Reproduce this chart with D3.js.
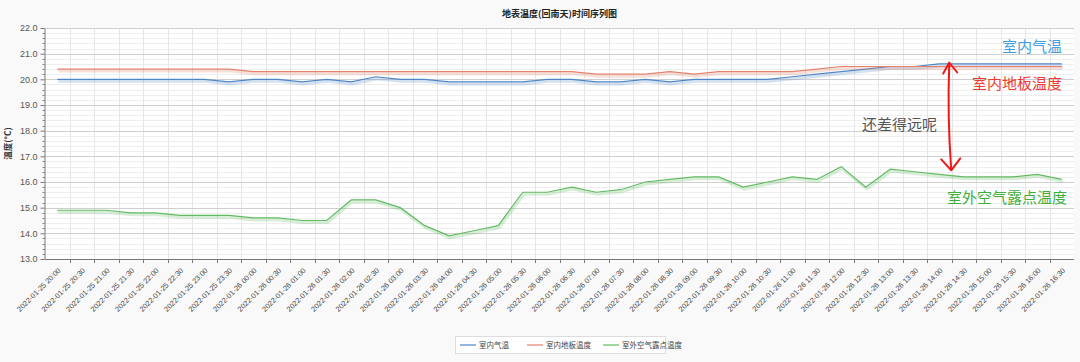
<!DOCTYPE html>
<html>
<head>
<meta charset="utf-8">
<script src="https://cdn.jsdelivr.net/npm/d3@7"></script>
<style>
	html, body { margin: 0; padding: 0; background: #f9f9f9; }
	svg { display: block; font-family: "Liberation Sans", "Noto Sans CJK SC", sans-serif; }
</style>
</head>
<body>
<script>
// 时间刻度
const times = [
	"2022-01-25 20:00", "2022-01-25 20:30", "2022-01-25 21:00", "2022-01-25 21:30",
	"2022-01-25 22:00", "2022-01-25 22:30", "2022-01-25 23:00", "2022-01-25 23:30",
	"2022-01-26 00:00", "2022-01-26 00:30", "2022-01-26 01:00", "2022-01-26 01:30",
	"2022-01-26 02:00", "2022-01-26 02:30", "2022-01-26 03:00", "2022-01-26 03:30",
	"2022-01-26 04:00", "2022-01-26 04:30", "2022-01-26 05:00", "2022-01-26 05:30",
	"2022-01-26 06:00", "2022-01-26 06:30", "2022-01-26 07:00", "2022-01-26 07:30",
	"2022-01-26 08:00", "2022-01-26 08:30", "2022-01-26 09:00", "2022-01-26 09:30",
	"2022-01-26 10:00", "2022-01-26 10:30", "2022-01-26 11:00", "2022-01-26 11:30",
	"2022-01-26 12:00", "2022-01-26 12:30", "2022-01-26 13:00", "2022-01-26 13:30",
	"2022-01-26 14:00", "2022-01-26 14:30", "2022-01-26 15:00", "2022-01-26 15:30",
	"2022-01-26 16:00", "2022-01-26 16:30"
];

// 室内气温
const indoorAir = [
	20.0, 20.0, 20.0, 20.0, 20.0, 20.0, 20.0, 19.9, 20.0, 20.0, 19.9, 20.0,
	19.9, 20.1, 20.0, 20.0, 19.9, 19.9, 19.9, 19.9, 20.0, 20.0, 19.9, 19.9,
	20.0, 19.9, 20.0, 20.0, 20.0, 20.0, 20.1, 20.2, 20.3, 20.4, 20.5, 20.5,
	20.6, 20.6, 20.6, 20.6, 20.6, 20.6
];

// 室内地板温度
const indoorFloor = [
	20.4, 20.4, 20.4, 20.4, 20.4, 20.4, 20.4, 20.4, 20.3, 20.3, 20.3, 20.3,
	20.3, 20.3, 20.3, 20.3, 20.3, 20.3, 20.3, 20.3, 20.3, 20.3, 20.2, 20.2,
	20.2, 20.3, 20.2, 20.3, 20.3, 20.3, 20.3, 20.4, 20.5, 20.5, 20.5, 20.5,
	20.5, 20.5, 20.5, 20.5, 20.5, 20.5
];

// 室外空气露点温度
const dewPoint = [
	14.9, 14.9, 14.9, 14.8, 14.8, 14.7, 14.7, 14.7, 14.6, 14.6, 14.5, 14.5,
	15.3, 15.3, 15.0, 14.3, 13.9, 14.1, 14.3, 15.6, 15.6, 15.8, 15.6, 15.7,
	16.0, 16.1, 16.2, 16.2, 15.8, 16.0, 16.2, 16.1, 16.6, 15.8, 16.5, 16.4,
	16.3, 16.2, 16.2, 16.2, 16.3, 16.1
];

const seriesNames = ["室内气温", "室内地板温度", "室外空气露点温度"];
const seriesColors = ["#4f86c6", "#e4826c", "#62bb62"];
const yTicks = [13, 14, 15, 16, 17, 18, 19, 20, 21, 22];

const W = 1080,
	H = 362,
	margin = { top: 28, right: 6, bottom: 103, left: 45 };

const svg = d3
	.select("body")
	.append("svg")
	.attr("width", W)
	.attr("height", H);

// 绘图区
const plotW = W - margin.left - margin.right,
	plotH = H - margin.top - margin.bottom;

const xScale = d3
		.scaleBand()
		.domain(times)
		.range([margin.left, margin.left + plotW])
		.padding(0),
	yScale = d3
		.scaleLinear()
		.domain([13, 22])
		.range([margin.top + plotH, margin.top]);

const cx = t => xScale(t) + xScale.bandwidth() / 2;

svg
	.append("rect")
	.attr("x", margin.left)
	.attr("y", margin.top)
	.attr("width", plotW)
	.attr("height", plotH)
	.attr("fill", "#fff");

// 网格线
const minor = d3.range(13, 22.001, 0.2).filter(v => Math.abs(v - Math.round(v)) > 0.01);

svg
	.append("g")
	.selectAll("line")
	.data(minor)
	.join("line")
	.attr("x1", margin.left)
	.attr("x2", margin.left + plotW)
	.attr("y1", d => Math.round(yScale(d)) + 0.5)
	.attr("y2", d => Math.round(yScale(d)) + 0.5)
	.attr("stroke", "#eeeeee");

svg
	.append("g")
	.selectAll("line")
	.data(times.slice(1))
	.join("line")
	.attr("x1", d => Math.round(xScale(d)) + 0.5)
	.attr("x2", d => Math.round(xScale(d)) + 0.5)
	.attr("y1", margin.top)
	.attr("y2", margin.top + plotH)
	.attr("stroke", "#e6e6e6");

svg
	.append("g")
	.selectAll("line")
	.data(yTicks.slice(1))
	.join("line")
	.attr("x1", margin.left)
	.attr("x2", margin.left + plotW)
	.attr("y1", d => Math.round(yScale(d)) + 0.5)
	.attr("y2", d => Math.round(yScale(d)) + 0.5)
	.attr("stroke", "#cfcfcf");

// y 轴
const yAxis = svg
	.append("g")
	.attr("transform", `translate(${margin.left - 0.5},0)`)
	.call(
		d3.axisLeft(yScale)
			.tickValues(yTicks)
			.tickFormat(d3.format(".1f"))
			.tickSize(4)
			.tickSizeOuter(0)
	);

yAxis.select(".domain").attr("stroke", "#777");
yAxis.selectAll(".tick line").attr("stroke", "#777");
yAxis
	.selectAll(".tick text")
	.attr("font-family", "Liberation Sans")
	.attr("font-size", 9)
	.attr("fill", "#555")
	.attr("x", -7);

svg
	.append("g")
	.selectAll("line")
	.data(minor)
	.join("line")
	.attr("x1", margin.left - 2.5)
	.attr("x2", margin.left)
	.attr("y1", d => Math.round(yScale(d)) + 0.5)
	.attr("y2", d => Math.round(yScale(d)) + 0.5)
	.attr("stroke", "#888");

svg
	.append("text")
	.attr("transform", `translate(11,${margin.top + plotH / 2}) rotate(-90)`)
	.attr("text-anchor", "middle")
	.attr("font-family", "Noto Sans CJK SC")
	.attr("font-weight", "bold")
	.attr("font-size", 8.5)
	.attr("fill", "#333")
	.text("温度(°C)");

// x 轴
const xAxisY = margin.top + plotH;

svg
	.append("line")
	.attr("x1", margin.left)
	.attr("x2", margin.left + plotW)
	.attr("y1", xAxisY + 0.5)
	.attr("y2", xAxisY + 0.5)
	.attr("stroke", "#777");

svg
	.append("g")
	.selectAll("line")
	.data(times.slice(1))
	.join("line")
	.attr("x1", d => Math.round(xScale(d)) + 0.5)
	.attr("x2", d => Math.round(xScale(d)) + 0.5)
	.attr("y1", xAxisY)
	.attr("y2", xAxisY + 4)
	.attr("stroke", "#777");

svg
	.append("g")
	.selectAll("text")
	.data(times)
	.join("text")
	.attr("transform", d => `translate(${cx(d) + 4},${xAxisY + 12}) rotate(-45)`)
	.attr("text-anchor", "end")
	.attr("font-family", "Liberation Sans")
	.attr("font-size", 7.4)
	.attr("fill", "#444")
	.text(d => d);

// 折线
const series = [indoorAir, indoorFloor, dewPoint];

const line = d3
	.line()
	.x((d, i) => cx(times[i]))
	.y(d => yScale(d));

series.forEach((values, k) => {
	svg
		.append("path")
		.attr("d", line(values))
		.attr("fill", "none")
		.attr("stroke", seriesColors[k])
		.attr("stroke-opacity", 0.25)
		.attr("stroke-width", 3)
		.attr("transform", "translate(1,2)");

	svg
		.append("path")
		.attr("d", line(values))
		.attr("fill", "none")
		.attr("stroke", seriesColors[k])
		.attr("stroke-width", 1.2);
});

// 标题
svg
	.append("text")
	.attr("x", margin.left + plotW / 2)
	.attr("y", 17)
	.attr("text-anchor", "middle")
	.attr("font-family", "Noto Sans CJK SC")
	.attr("font-weight", "bold")
	.attr("font-size", 9)
	.attr("fill", "#222")
	.text("地表温度(回南天)时间序列图");

// 图例
const legendItems = [
	{ x: 460, w: 50 },
	{ x: 527, w: 70 },
	{ x: 603, w: 62 }
];

svg
	.append("rect")
	.attr("x", 455.5)
	.attr("y", 336.5)
	.attr("width", 210)
	.attr("height", 17)
	.attr("fill", "#fff")
	.attr("stroke", "#dddddd");

const legend = svg
	.append("g")
	.selectAll("g")
	.data(seriesNames)
	.join("g")
	.attr("transform", (d, i) => `translate(${legendItems[i].x},345)`);

legend
	.append("line")
	.attr("x1", 0)
	.attr("x2", 16)
	.attr("stroke", (d, i) => seriesColors[i])
	.attr("stroke-width", 1.2);

legend
	.append("text")
	.attr("x", 19)
	.attr("y", 3)
	.attr("font-family", "Noto Sans CJK SC")
	.attr("font-size", 7.5)
	.attr("fill", "#444")
	.text(d => d);

// 手写注释
const notes = [
	{ text: "室内气温", color: "#3f9fe0", x: 1062, y: 52, anchor: "end" },
	{ text: "室内地板温度", color: "#f03a32", x: 1062, y: 89, anchor: "end" },
	{ text: "还差得远呢", color: "#555", x: 862, y: 130, anchor: "start" },
	{ text: "室外空气露点温度", color: "#3fae3f", x: 1067, y: 203, anchor: "end" }
];

svg
	.append("g")
	.selectAll("text")
	.data(notes)
	.join("text")
	.attr("x", d => d.x)
	.attr("y", d => d.y)
	.attr("text-anchor", d => d.anchor)
	.attr("font-family", "Noto Sans CJK SC")
	.attr("font-size", 15)
	.attr("fill", d => d.color)
	.text(d => d.text);

// 红色双箭头
const ax = cx(times[36]) + 11,
	aTop = yScale(20.5) - 4,
	aBot = yScale(16.3) - 4;

svg
	.append("path")
	.attr(
		"d",
		`M${ax - 7},${aTop + 11} L${ax - 1},${aTop} L${ax + 7},${aTop + 10}` +
		` M${ax - 1},${aTop + 1} Q${ax - 3},${(aTop + aBot) / 2} ${ax + 1},${aBot}` +
		` M${ax - 9},${aBot - 11} L${ax + 1},${aBot} L${ax + 10},${aBot - 12}`
	)
	.attr("fill", "none")
	.attr("stroke", "#f01818")
	.attr("stroke-width", 2)
	.attr("stroke-linecap", "round")
	.attr("stroke-linejoin", "round");
</script>
</body>
</html>
